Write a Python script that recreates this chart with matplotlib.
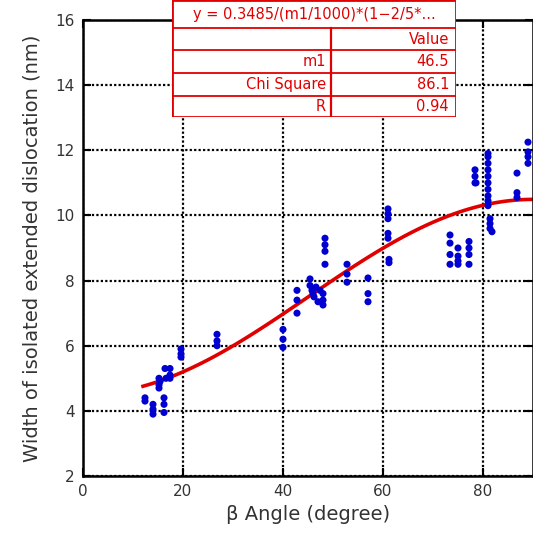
import matplotlib.pyplot as plt
import numpy as np

# measured widths (nm) vs beta angle (degree)
beta = [12.4, 12.4, 14.0, 14.0, 14.0, 15.2, 15.2, 15.2, 15.4,
        16.2, 16.2, 16.2, 16.4, 16.6, 17.4, 17.4, 17.4,
        19.6, 19.6, 19.6, 26.8, 26.8, 26.8,
        40.0, 40.0, 40.0, 42.8, 42.8, 42.8,
        45.4, 45.4, 45.8, 46.0, 46.2, 46.6, 47.0, 47.4, 48.0, 48.0, 48.0,
        48.4, 48.4, 48.4, 48.4, 52.8, 52.8, 52.8, 57.0, 57.0, 57.0,
        61.0, 61.0, 61.0, 61.0, 61.0, 61.2, 61.2,
        73.4, 73.4, 73.4, 73.4, 75.0, 75.0, 75.0, 75.0,
        77.2, 77.2, 77.2, 77.2, 78.4, 78.4, 78.4, 78.6,
        81.0, 81.0, 81.0, 81.0, 81.0, 81.0, 81.0, 81.0, 81.0, 81.0,
        81.4, 81.4, 81.4, 81.8, 86.8, 86.8, 86.8,
        89.0, 89.0, 89.0, 89.0]
width = [4.3, 4.4, 4.2, 4.05, 3.9, 5.0, 4.8, 4.7, 4.9,
         4.4, 4.2, 3.95, 5.3, 5.0, 5.3, 5.1, 5.0,
         5.9, 5.75, 5.65, 6.35, 6.15, 6.0,
         6.5, 6.2, 5.95, 7.7, 7.4, 7.0,
         8.05, 7.85, 7.7, 7.6, 7.5, 7.8, 7.35, 7.7, 7.6, 7.4, 7.25,
         9.3, 9.1, 8.9, 8.5, 8.5, 8.2, 7.95, 8.08, 7.6, 7.35,
         10.2, 10.05, 9.9, 9.45, 9.3, 8.65, 8.55,
         9.4, 9.15, 8.8, 8.5, 9.0, 8.75, 8.6, 8.5,
         9.2, 9.0, 8.8, 8.5, 11.4, 11.2, 11.0, 11.0,
         11.9, 11.8, 11.6, 11.4, 11.2, 11.0, 10.8, 10.6, 10.45, 10.3,
         9.9, 9.75, 9.6, 9.5, 11.3, 10.7, 10.55,
         12.25, 11.95, 11.8, 11.6]

# fit result from the table
m1 = 46.5
fit_beta = np.linspace(12, 90, 80)
fit_width = 0.3485 / (m1 / 1000) * (1 - 2 / 5 * np.cos(np.radians(2 * fit_beta)))

table_rows = [("", "Value"), ("m1", "46.5"), ("Chi Square", "86.1"), ("R", "0.94")]
table_title = "y = 0.3485/(m1/1000)*(1\u22122/5*..."

fig = plt.figure(figsize=(5.33, 5.37), dpi=100)
ax = fig.add_axes([83 / 533, 61 / 537, 450 / 533, 456 / 537])

ax.plot(fit_beta, fit_width, color="#e00000", lw=2.6, zorder=2)
ax.scatter(beta, width, s=26, color="#0000d0", edgecolors="none", zorder=3)

ax.set_xlim(0, 90)
ax.set_ylim(2, 16)
ax.set_xticks([0, 20, 40, 60, 80])
ax.set_yticks(range(2, 17, 2))
ax.grid(True, color="black", linestyle=(0, (1, 1)), lw=1.6)
ax.tick_params(direction="in", length=6, width=1.5, top=True, right=True,
               labelsize=11, colors="black", pad=6)
ax.tick_params(axis="x", labelcolor="#333333")
ax.tick_params(axis="y", labelcolor="#333333")
for sp in ax.spines.values():
    sp.set_linewidth(1.8)
ax.set_xlabel("\u03b2 Angle (degree)", fontsize=14, color="#333333", labelpad=4)
ax.set_ylabel("Width of isolated extended dislocation (nm)", fontsize=14,
              color="#333333", labelpad=10)

# fit parameter table drawn on top
tx = fig.add_axes([172 / 533, 1 - 117 / 537, 284 / 533, 117 / 537])
tx.set_xlim(0, 284)
tx.set_ylim(117, 0)
tx.axis("off")
red = "#e00000"
tx.add_patch(plt.Rectangle((0, 0), 284, 117, facecolor="white",
                           edgecolor=red, lw=2.0))
row_edges = [28, 50, 73, 96]
for y in row_edges:
    tx.plot([0, 284], [y, y], color=red, lw=1.3)
tx.plot([159, 159], [28, 117], color=red, lw=1.6)
tx.text(142, 15, table_title, color=red, fontsize=10.5, ha="center", va="center")
centers = [39, 61.5, 84.5, 106.5]
for (name, val), cy in zip(table_rows, centers):
    tx.text(154, cy, name, color=red, fontsize=10.5, ha="right", va="center")
    tx.text(277, cy, val, color=red, fontsize=10.5, ha="right", va="center")

fig.savefig("out.png", dpi=100)
